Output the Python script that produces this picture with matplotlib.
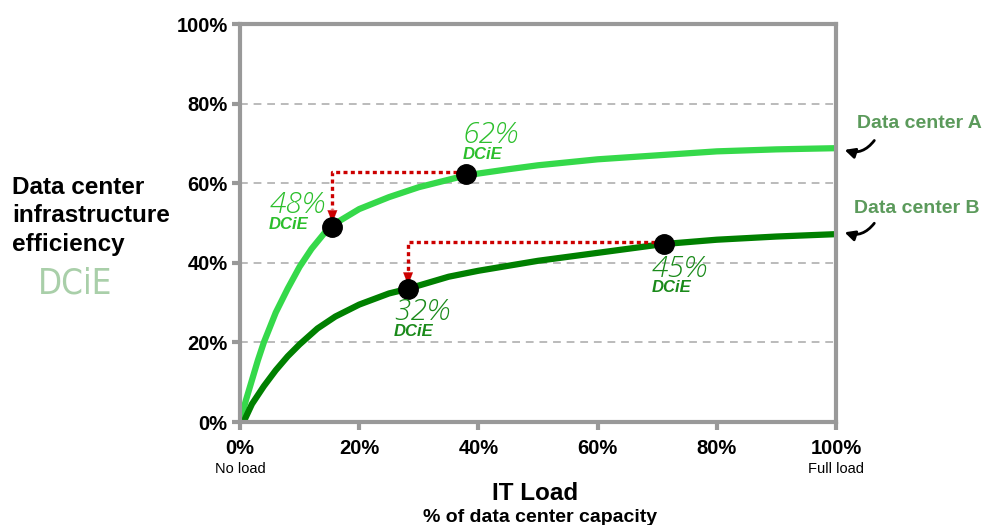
import matplotlib
matplotlib.use("Agg")
import matplotlib.pyplot as plt

# IT load (% of capacity) and DCiE (%)
load_a = [0, 1, 2, 3, 4, 6, 8, 10, 12, 15, 20, 25, 30, 38, 45, 50, 60, 70, 80, 90, 100]
dcie_a = [0, 5.5, 10.5, 15.5, 20, 27.5, 33.5, 39, 43.5, 49, 53.5, 56.5, 59, 62, 63.5, 64.5, 66, 67, 68, 68.5, 68.8]

load_b = [0.6, 2, 4, 6, 8, 10, 13, 16, 20, 25, 28, 35, 40, 50, 60, 71, 80, 90, 100]
dcie_b = [0, 4.5, 9, 13, 16.5, 19.5, 23.5, 26.5, 29.5, 32.3, 33.4, 36.5, 38, 40.5, 42.5, 44.7, 45.8, 46.6, 47.2]

# highlighted operating points: (load, dcie, label)
points_a = [(15.5, 49.0, "48%"), (37.9, 62.2, "62%")]
points_b = [(28.2, 33.4, "32%"), (71.2, 44.7, "45%")]

y_ticks = [0, 20, 40, 60, 80, 100]
x_ticks = [0, 20, 40, 60, 80, 100]

GRAY = "#999999"
LIGHT = "#35d94a"
DARK = "#008000"
LBL_A = "#2cbf2c"
LBL_B = "#1a8a1a"
NAME_C = "#5b9a5b"
RED = "#cc0000"

plt.rcParams["font.family"] = ["Liberation Sans", "DejaVu Sans"]

fig = plt.figure(figsize=(9.84, 5.25), dpi=100)
ax = fig.add_axes([240 / 984, 1 - 422 / 525, 596 / 984, 398 / 525])
ax.set_xlim(0, 100)
ax.set_ylim(0, 100)

for s in ax.spines.values():
    s.set_color(GRAY)
    s.set_linewidth(3)
ax.tick_params(axis="both", direction="out", length=6, width=3, color=GRAY,
               labelsize=14.5, pad=3)
ax.set_yticks(y_ticks)
ax.set_yticklabels([f"{v}%" for v in y_ticks], fontweight="bold")
ax.set_xticks(x_ticks)
ax.set_xticklabels([f"{v}%" for v in x_ticks], fontweight="bold")
ax.tick_params(axis="x", pad=6)

for g in y_ticks[1:-1]:
    ax.axhline(g, color="#bbbbbb", lw=1.4, ls=(0, (4, 3)), zorder=0)

ax.plot(load_a, dcie_a, color=LIGHT, lw=4.5, solid_capstyle="butt", zorder=2)
ax.plot(load_b, dcie_b, color=DARK, lw=4.5, solid_capstyle="butt", zorder=2)

# red dotted arrows: from the better point back to the lower-load point
for pts in (points_a, points_b):
    (x0, y0, _), (x1, y1, _) = pts
    ax.plot([x1 - 1.5, x0, x0], [y1 + 0.5, y1 + 0.5, y0 + 4.5], color=RED, lw=2.4,
            ls=(0, (1.2, 1.0)), zorder=3)
    ax.annotate("", xy=(x0, y0 + 1.0), xytext=(x0, y0 + 4.8),
                arrowprops=dict(arrowstyle="-|>,head_length=0.9,head_width=0.35",
                                color=RED, lw=0.1, shrinkA=0, shrinkB=0), zorder=3)

for pts in (points_a, points_b):
    ax.plot([p[0] for p in pts], [p[1] for p in pts], "o", color="black",
            ms=14, zorder=4)

# value labels
lbl_pos = {"48%": (4.9, 54.1, LBL_A), "62%": (37.4, 71.7, LBL_A),
           "32%": (25.9, 27.3, LBL_B), "45%": (69.1, 38.2, LBL_B)}
for txt, (lx, ly, c) in lbl_pos.items():
    ax.text(lx, ly + 0.3, txt, color=c, fontsize=21.5, style="italic", weight="light",
            family=["Open Sans", "Liberation Sans"], ha="left", va="center", zorder=5)
    ax.text(lx - 0.1, ly - 4.5, "DCiE", color=c, fontsize=12, style="italic",
            fontweight="bold", ha="left", va="center", zorder=5)

# series names with small curved arrows
ax.text(103.5, 74.9, "Data center A", color=NAME_C, fontsize=14,
        fontweight="bold", ha="left", va="center", clip_on=False)
ax.text(103.0, 53.7, "Data center B", color=NAME_C, fontsize=14,
        fontweight="bold", ha="left", va="center", clip_on=False)
for y_from, y_to in ((71.3, 68.6), (50.5, 47.9)):
    ax.annotate("", xy=(101.0, y_to), xytext=(106.7, y_from),
                arrowprops=dict(arrowstyle="-|>,head_length=0.6,head_width=0.3",
                                color="black", lw=2.0,
                                connectionstyle="arc3,rad=-0.4"),
                annotation_clip=False)

# axis titles
fig.text(12 / 984, 1 - 216 / 525, "Data center\ninfrastructure\nefficiency",
         fontsize=17.5, fontweight="bold", ha="left", va="center", linespacing=1.32)
fig.text(75 / 984, 1 - 284 / 525, "DCiE", color="#a9cfa9", fontsize=25,
         family="DejaVu Sans", stretch="condensed", weight="light",
         ha="center", va="center")
fig.text(240 / 984, 1 - 469 / 525, "No load", fontsize=10.5, ha="center", va="center")
fig.text(836 / 984, 1 - 469 / 525, "Full load", fontsize=10.5, ha="center", va="center")
fig.text(535 / 984, 1 - 494 / 525, "IT Load", fontsize=17.5, fontweight="bold",
         ha="center", va="center")
fig.text(540 / 984, 1 - 517 / 525, "% of data center capacity", fontsize=14,
         fontweight="bold", ha="center", va="center")

fig.savefig("out.png", dpi=100)
